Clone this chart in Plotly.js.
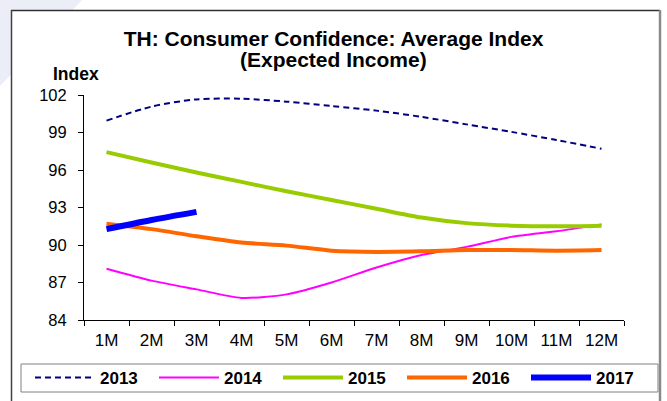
<!DOCTYPE html>
<html>
<head>
<meta charset="utf-8">
<script src="https://cdn.plot.ly/plotly-3.0.1.min.js"></script>
<style>
  html, body { margin: 0; padding: 0; background: #ffffff; }
  #chart { width: 667px; height: 401px; }
</style>
</head>
<body>
<div id="chart"></div>
<script>
// ---- data ----
var months = ['1M','2M','3M','4M','5M','6M','7M','8M','9M','10M','11M','12M'];
var y2013 = [99.95, 101.07, 101.65, 101.7, 101.47, 101.12, 100.75, 100.25, 99.65, 99.05, 98.4, 97.7];
var y2014 = [88.1, 87.15, 86.45, 85.77, 86.05, 87.0, 88.2, 89.2, 89.85, 90.65, 91.1, 91.65];
var y2015 = [97.43, 96.6, 95.8, 95.05, 94.3, 93.6, 92.9, 92.2, 91.75, 91.55, 91.5, 91.55];
var y2016 = [91.7, 91.27, 90.7, 90.2, 89.95, 89.55, 89.45, 89.5, 89.6, 89.6, 89.55, 89.6];
var y2017 = [91.27, 92.0, 92.65];
var seriesNames = ['2013', '2014', '2015', '2016', '2017'];
var yTicks = [84, 87, 90, 93, 96, 99, 102];
var titleLine1 = 'TH: Consumer Confidence: Average Index';
var titleLine2 = '(Expected Income)';
var yLabel = 'Index';

// ---- layout helpers (pixel -> paper) ----
var W = 667, H = 401;
var M = {l: 84, r: 43, t: 95, b: 81, autoexpand: false};
var PW = W - M.l - M.r, PH = H - M.t - M.b;
function px(x) { return (x - M.l) / PW; }
function py(y) { return (H - M.b - y) / PH; }

var FONT = 'Liberation Sans, Arial, sans-serif';

var traces = [
  {x: months, y: y2013, name: seriesNames[0], mode: 'lines',
   line: {color: '#000080', width: 2, dash: '6px,4px', shape: 'spline', smoothing: 0.8}},
  {x: months.slice(0, y2014.length), y: y2014, name: seriesNames[1], mode: 'lines',
   line: {color: '#FF00FF', width: 2, shape: 'spline', smoothing: 0.7}},
  {x: months, y: y2015, name: seriesNames[2], mode: 'lines',
   line: {color: '#99CC00', width: 4, shape: 'spline', smoothing: 0.8}},
  {x: months, y: y2016, name: seriesNames[3], mode: 'lines',
   line: {color: '#FF6600', width: 4, shape: 'spline', smoothing: 0.8}},
  {x: months.slice(0, y2017.length), y: y2017, name: seriesNames[4], mode: 'lines',
   line: {color: '#0000FF', width: 6, shape: 'spline', smoothing: 0.8}}
];

var layout = {
  width: W, height: H,
  margin: M,
  paper_bgcolor: '#ffffff',
  plot_bgcolor: 'rgba(0,0,0,0)',
  font: {family: FONT, color: '#000000', size: 15},
  title: {
    text: '<b>' + titleLine1 + '</b>',
    font: {family: FONT, size: 21, color: '#000000'},
    xref: 'container', x: 0.5, xanchor: 'center',
    yref: 'container', y: 1 - 39 / H, yanchor: 'middle'
  },
  xaxis: {
    type: 'category',
    categoryorder: 'array', categoryarray: months,
    range: [-0.5, months.length - 0.5],
    showline: true, linecolor: '#000000', linewidth: 1,
    ticks: 'outside', tickson: 'boundaries', ticklen: 5, tickcolor: '#000000',
    showgrid: false, zeroline: false,
    tickfont: {family: FONT, size: 17, color: '#000000', weight: 'normal'},
    ticklabelstandoff: 5,
    fixedrange: true
  },
  yaxis: {
    range: [84, 102],
    tickvals: yTicks,
    ticktext: yTicks.map(String),
    showline: true, linecolor: '#000000', linewidth: 1,
    ticks: 'outside', ticklen: 5, tickcolor: '#000000',
    showgrid: false, zeroline: false,
    tickfont: {family: FONT, size: 16.5, color: '#000000', weight: 'normal'},
    ticklabelstandoff: 8,
    fixedrange: true
  },
  showlegend: true,
  legend: {
    orientation: 'h',
    x: px(30), xanchor: 'left',
    y: py(378), yanchor: 'middle',
    borderwidth: 0,
    bgcolor: 'rgba(255,255,255,0)',
    font: {family: FONT, size: 17, color: '#000000', weight: 'bold'},
    itemwidth: 60,
    entrywidthmode: 'pixels', entrywidth: 49,
    traceorder: 'normal'
  },
  annotations: [
    {text: '<b>' + titleLine2 + '</b>', xref: 'paper', yref: 'paper',
     x: px(333.5), y: py(59), xanchor: 'center', yanchor: 'middle',
     showarrow: false, font: {family: FONT, size: 21, color: '#000000'}},
    {text: '<b>' + yLabel + '</b>', xref: 'paper', yref: 'paper',
     x: px(76), y: py(74), xanchor: 'center', yanchor: 'middle',
     showarrow: false, font: {family: FONT, size: 17.5, color: '#000000'}}
  ],
  shapes: [
    // pale slide background corner
    {type: 'path', xref: 'paper', yref: 'paper', layer: 'below',
     path: 'M ' + px(0) + ' ' + py(0) + ' L ' + px(82) + ' ' + py(0) + ' L ' + px(0) + ' ' + py(86) + ' Z',
     fillcolor: '#eceef7', line: {width: 0}},
    // white chart area
    {type: 'rect', xref: 'paper', yref: 'paper', layer: 'below',
     x0: px(11), x1: px(660), y0: py(10), y1: py(410),
     fillcolor: '#ffffff', line: {width: 0}},
    // chart frame
    {type: 'line', xref: 'paper', yref: 'paper', layer: 'below',
     x0: px(11), x1: px(660), y0: py(10.5), y1: py(10.5),
     line: {color: '#303030', width: 1.5}},
    {type: 'line', xref: 'paper', yref: 'paper', layer: 'below',
     x0: px(11.5), x1: px(11.5), y0: py(10), y1: py(410),
     line: {color: '#404040', width: 1.5}},
    {type: 'line', xref: 'paper', yref: 'paper', layer: 'below',
     x0: px(660), x1: px(660), y0: py(10), y1: py(410),
     line: {color: '#8a8a8a', width: 2.5}},
    // legend frame
    {type: 'rect', xref: 'paper', yref: 'paper', layer: 'below',
     x0: px(21), x1: px(658), y0: py(364), y1: py(392),
     fillcolor: 'rgba(0,0,0,0)', line: {color: '#808080', width: 1}}
  ]
};

Plotly.newPlot('chart', traces, layout, {displayModeBar: false, staticPlot: true});
</script>
</body>
</html>
